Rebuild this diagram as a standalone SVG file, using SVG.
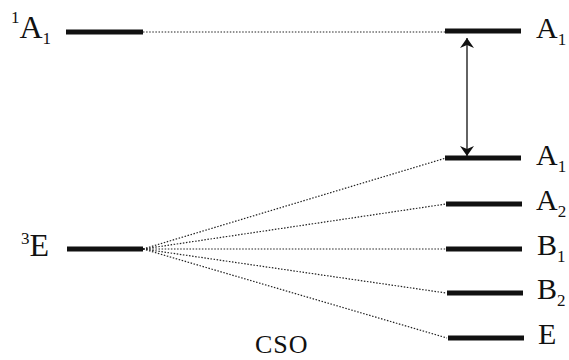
<svg xmlns="http://www.w3.org/2000/svg" width="569" height="360" viewBox="0 0 569 360">
<style>
.bar{stroke:#111;stroke-width:5;}
.dot{stroke:#222;stroke-width:1.2;stroke-dasharray:1.5 1.6;fill:none;}
.lbl{font-family:"Liberation Serif","Times New Roman",serif;font-size:30px;fill:#111;}
.big{font-size:32px;}
.sm{font-size:17px;}
.cso{font-family:"Liberation Serif","Times New Roman",serif;font-size:26px;fill:#111;}
.arr{stroke:#222;stroke-width:1.4;fill:none;}
</style>
<defs>
<marker id="ah" viewBox="0 0 10 14" refX="10" refY="7" markerWidth="10" markerHeight="14" markerUnits="userSpaceOnUse" orient="auto-start-reverse">
<path d="M0,0 L10,7 L0,14 L3,7 Z" fill="#111"/>
</marker>
</defs>
<g id="connectors">
<line class="dot" x1="143" y1="32" x2="445" y2="32"/>
<line class="dot" x1="143" y1="249" x2="446" y2="158"/>
<line class="dot" x1="143" y1="249" x2="446" y2="204"/>
<line class="dot" x1="143" y1="249" x2="446" y2="249"/>
<line class="dot" x1="143" y1="249" x2="446" y2="293"/>
<line class="dot" x1="143" y1="249" x2="447" y2="338"/>
<line class="arr" x1="467" y1="38" x2="467" y2="156" marker-start="url(#ah)" marker-end="url(#ah)"/>
</g>
<g id="left-1A1">
<line class="bar" x1="66" y1="32" x2="143" y2="32"/>
<text class="lbl" x="11" y="38"><tspan class="sm" dy="-15">1</tspan><tspan class="big" dy="15">A</tspan><tspan class="sm" dy="6">1</tspan></text>
</g>
<g id="left-3E">
<line class="bar" x1="67" y1="249" x2="143" y2="249"/>
<text class="lbl" x="21" y="256"><tspan class="sm" dy="-12">3</tspan><tspan class="big" dy="12">E</tspan></text>
</g>
<g id="right-A1-top">
<line class="bar" x1="445" y1="31" x2="521" y2="31"/>
<text class="lbl" x="536" y="38">A<tspan class="sm" dy="7">1</tspan></text>
</g>
<g id="right-A1">
<line class="bar" x1="445" y1="158" x2="521" y2="158"/>
<text class="lbl" x="536" y="165">A<tspan class="sm" dy="7">1</tspan></text>
</g>
<g id="right-A2">
<line class="bar" x1="446" y1="204" x2="522" y2="204"/>
<text class="lbl" x="536" y="210">A<tspan class="sm" dy="7">2</tspan></text>
</g>
<g id="right-B1">
<line class="bar" x1="446" y1="249" x2="522" y2="249"/>
<text class="lbl" x="537" y="255">B<tspan class="sm" dy="7">1</tspan></text>
</g>
<g id="right-B2">
<line class="bar" x1="447" y1="293" x2="523" y2="293"/>
<text class="lbl" x="537" y="299">B<tspan class="sm" dy="7">2</tspan></text>
</g>
<g id="right-E">
<line class="bar" x1="448" y1="338" x2="524" y2="338"/>
<text class="lbl" x="538" y="344">E</text>
</g>
<text class="cso" x="255" y="353" letter-spacing="1">CSO</text>
</svg>
